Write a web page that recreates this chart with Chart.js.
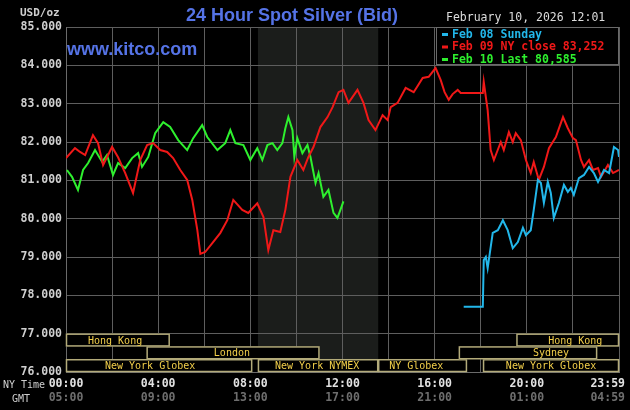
<!DOCTYPE html>
<html>
<head>
<meta charset="utf-8">
<script src="https://cdn.jsdelivr.net/npm/chart.js@4.4.0/dist/chart.umd.min.js"></script>
<style>
  html, body { margin: 0; padding: 0; background: #000; }
  canvas { display: block; }
</style>
</head>
<body>
<canvas id="silverChart" width="630" height="410"></canvas>
<script>
// hours after NY midnight -> price (USD/oz)
const feb09Hours = [0, 0.39, 0.61, 0.83, 1.17, 1.39, 1.61, 2.0, 2.26, 2.57,
  2.91, 3.22, 3.52, 3.78, 4.09, 4.39, 4.65, 4.96, 5.26, 5.48,
  5.70, 5.83, 6.04, 6.35, 6.70, 7.0, 7.26, 7.65, 7.91, 8.30,
  8.57, 8.78, 9.0, 9.30, 9.52, 9.74, 10.04, 10.30, 10.52, 10.74,
  11.04, 11.35, 11.57, 11.83, 12.04, 12.26, 12.65, 12.91, 13.13, 13.43,
  13.74, 13.96, 14.09, 14.39, 14.74, 15.09, 15.48, 15.74, 16.04, 16.26,
  16.43, 16.61, 16.78, 17.0, 17.13, 18.09, 18.13, 18.30, 18.43, 18.57,
  18.87, 19.0, 19.22, 19.39, 19.52, 19.74, 19.96, 20.17, 20.30, 20.52,
  20.74, 20.96, 21.26, 21.57, 21.78, 22.0, 22.13, 22.35, 22.48, 22.70,
  22.87, 23.09, 23.22, 23.52, 23.74, 24];
const feb09Prices = [81.58, 81.84, 81.74, 81.66, 82.18, 81.97, 81.40, 81.87, 81.60, 81.19,
  80.67, 81.53, 81.92, 81.97, 81.79, 81.74, 81.58, 81.27, 81.01, 80.49,
  79.70, 79.08, 79.13, 79.36, 79.63, 79.96, 80.49, 80.23, 80.15, 80.40,
  80.04, 79.18, 79.70, 79.65, 80.23, 81.09, 81.53, 81.27, 81.61, 81.87,
  82.39, 82.65, 82.91, 83.30, 83.36, 83.02, 83.36, 83.02, 82.57, 82.31,
  82.70, 82.57, 82.91, 83.02, 83.41, 83.30, 83.67, 83.70, 83.93, 83.62,
  83.30, 83.10, 83.25, 83.36, 83.28, 83.28, 83.57, 82.83, 81.79, 81.53,
  82.00, 81.79, 82.26, 82.00, 82.23, 82.05, 81.53, 81.19, 81.48, 81.01,
  81.35, 81.84, 82.13, 82.65, 82.36, 82.10, 82.05, 81.53, 81.35, 81.53,
  81.27, 81.32, 81.09, 81.40, 81.19, 81.27];

const feb10Hours = [0.04, 0.26, 0.52, 0.74, 0.96, 1.26, 1.57, 1.78, 2.04, 2.26,
  2.57, 2.87, 3.13, 3.30, 3.57, 3.87, 4.22, 4.52, 4.87, 5.26,
  5.52, 5.91, 6.13, 6.57, 6.91, 7.13, 7.35, 7.70, 8.0, 8.30,
  8.52, 8.74, 8.96, 9.17, 9.39, 9.52, 9.65, 9.83, 9.91, 10.04,
  10.26, 10.48, 10.61, 10.83, 10.96, 11.17, 11.39, 11.61, 11.78, 11.91,
  12.04];
const feb10Prices = [81.27, 81.09, 80.75, 81.27, 81.45, 81.79, 81.48, 81.66, 81.14, 81.45,
  81.32, 81.58, 81.71, 81.35, 81.61, 82.23, 82.52, 82.39, 82.05, 81.79,
  82.10, 82.44, 82.13, 81.79, 81.97, 82.31, 81.97, 81.92, 81.53, 81.84,
  81.53, 81.92, 81.97, 81.79, 81.97, 82.36, 82.65, 82.31, 81.61, 82.10,
  81.71, 81.92, 81.61, 80.93, 81.19, 80.57, 80.75, 80.15, 80.02, 80.23,
  80.45];

const feb08Hours = [17.26, 18.09, 18.13, 18.22, 18.30, 18.52, 18.74, 18.96, 19.17, 19.39,
  19.61, 19.83, 19.96, 20.17, 20.30, 20.48, 20.61, 20.74, 20.91, 21.04,
  21.17, 21.39, 21.61, 21.78, 21.91, 22.04, 22.26, 22.48, 22.70, 22.91,
  23.09, 23.35, 23.57, 23.78, 23.96, 24.0];
const feb08Prices = [77.70, 77.70, 78.92, 79.00, 78.71, 79.63, 79.70, 79.96, 79.70, 79.23,
  79.39, 79.76, 79.57, 79.70, 80.23, 81.01, 80.93, 80.41, 80.96, 80.67,
  80.02, 80.41, 80.88, 80.70, 80.80, 80.62, 81.06, 81.14, 81.35, 81.19,
  80.96, 81.27, 81.19, 81.87, 81.79, 81.61];

const legendLabels = ["Feb 08 Sunday", "Feb 09 NY close 83,252", "Feb 10 Last 80,585"];

const nyTickHours = [0, 4, 8, 12, 16, 20, 24];
const nyTickLabels = ["00:00", "04:00", "08:00", "12:00", "16:00", "20:00", "23:59"];
const gmtTickLabels = ["05:00", "09:00", "13:00", "17:00", "21:00", "01:00", "04:59"];

// trading sessions (row 0 = top band)
const sessionNames = ["Hong Kong", "London", "New York Globex", "New York NYMEX", "NY Globex", "New York Globex", "Sydney", "Hong Kong"];
const sessionStart = [0, 3.5, 0, 8.33, 13.55, 18.1, 17.05, 19.55];
const sessionEnd = [4.5, 11.0, 8.08, 13.55, 17.4, 24, 23.05, 24];
const sessionRow = [0, 1, 2, 2, 2, 2, 1, 0];
const sessionLabelAt = [2.13, 7.2, 3.65, 10.9, 15.2, 21.05, 21.05, 22.1];

const toPoints = (hours, prices) => hours.map((h, i) => ({ x: h, y: prices[i] }));

const mono = '"DejaVu Sans Mono", monospace';

const kitcoPlugin = {
  id: "kitco",
  beforeDraw(chart) {
    const { ctx, chartArea: a, scales: { x } } = chart;
    ctx.save();
    ctx.fillStyle = "#000";
    ctx.fillRect(0, 0, chart.width, chart.height);
    // NYMEX hours shading
    const x0 = x.getPixelForValue(sessionStart[3]);
    const x1 = x.getPixelForValue(sessionEnd[3]);
    ctx.fillStyle = "#1b1d1b";
    ctx.fillRect(x0, a.top, x1 - x0, a.bottom - a.top);
    ctx.restore();
  },
  afterDraw(chart) {
    const { ctx, chartArea: a, scales: { x, y } } = chart;
    ctx.save();

    // session bands
    const bandTop = [77, 76.667, 76.333];
    const bandBottom = [76.667, 76.333, 76];
    ctx.font = "10px " + mono;
    ctx.textAlign = "center";
    ctx.textBaseline = "middle";
    sessionNames.forEach((name, i) => {
      const r = sessionRow[i];
      const xa = x.getPixelForValue(sessionStart[i]);
      const xb = x.getPixelForValue(sessionEnd[i]);
      const ya = y.getPixelForValue(bandTop[r]);
      const yb = y.getPixelForValue(bandBottom[r]);
      ctx.fillStyle = "#000";
      ctx.fillRect(xa, ya, xb - xa, yb - ya);
      ctx.strokeStyle = "#b3ab7a";
      ctx.lineWidth = 1.5;
      ctx.strokeRect(xa + 0.5, ya + 0.5, xb - xa - 1, yb - ya - 1);
      ctx.fillStyle = "#f2cf4a";
      ctx.fillText(name, x.getPixelForValue(sessionLabelAt[i]), (ya + yb) / 2 + 1);
    });

    // legend box
    const lx = 436, ly = a.top, lw = a.right - lx, lh = 38;
    ctx.fillStyle = "#000";
    ctx.fillRect(lx, ly, lw, lh);
    ctx.strokeStyle = "#6a6a6a";
    ctx.lineWidth = 1;
    ctx.strokeRect(lx + 0.5, ly + 0.5, lw - 1, lh - 1);
    ctx.font = "bold 11.5px " + mono;
    ctx.textAlign = "left";
    chart.data.datasets.forEach((ds, i) => {
      const ty = ly + 7 + i * 12.5;
      ctx.fillStyle = ds.borderColor;
      ctx.fillRect(442, ty - 1, 6, 3);
      ctx.fillText(legendLabels[i], 452, ty + 1);
    });

    // title, site, date, unit
    ctx.textAlign = "center";
    ctx.fillStyle = "#5573e6";
    ctx.font = 'bold 18px "Liberation Sans", Arial, sans-serif';
    ctx.fillText("24 Hour Spot Silver (Bid)", 292, 16);
    ctx.textAlign = "left";
    ctx.fillText("www.kitco.com", 67, 50);
    ctx.fillStyle = "#dcdcdc";
    ctx.font = "11.5px " + mono;
    ctx.fillText("February 10, 2026 12:01", 446, 18);
    ctx.fillStyle = "#cfcfcf";
    ctx.font = "bold 11px " + mono;
    ctx.fillText("USD/oz", 20, 13);

    // time axis labels
    ctx.font = "10px " + mono;
    ctx.fillStyle = "#cfcfcf";
    ctx.fillText("NY Time", 3, 385);
    ctx.fillText("GMT", 12, 399);
    ctx.font = "bold 11.5px " + mono;
    ctx.textAlign = "center";
    nyTickHours.forEach((h, i) => {
      const w = ctx.measureText(nyTickLabels[i]).width;
      const px = Math.min(x.getPixelForValue(h), chart.width - w / 2 - 5);
      ctx.fillStyle = "#e2e2e2";
      ctx.fillText(nyTickLabels[i], px, 384);
      ctx.fillStyle = "#6e6e6e";
      ctx.fillText(gmtTickLabels[i], px, 398);
    });
    ctx.restore();
  }
};

const ctx = document.getElementById("silverChart").getContext("2d");
new Chart(ctx, {
  type: "line",
  data: {
    datasets: [
      { label: legendLabels[0], data: toPoints(feb08Hours, feb08Prices), borderColor: "#22b7ea" },
      { label: legendLabels[1], data: toPoints(feb09Hours, feb09Prices), borderColor: "#f01818" },
      { label: legendLabels[2], data: toPoints(feb10Hours, feb10Prices), borderColor: "#2ef02e" }
    ]
  },
  options: {
    responsive: false,
    animation: false,
    devicePixelRatio: 1,
    layout: { padding: { top: 27, right: 11, left: 0, bottom: 0 } },
    elements: {
      point: { radius: 0 },
      line: { borderWidth: 2, tension: 0 }
    },
    plugins: {
      legend: { display: false },
      tooltip: { enabled: false }
    },
    scales: {
      x: {
        type: "linear",
        min: 0,
        max: 24,
        ticks: { stepSize: 2, display: false },
        grid: { color: "#5e5e5e", drawTicks: false },
        border: { color: "#6a6a6a" },
        afterFit: (s) => { s.height = 38; }
      },
      y: {
        min: 76,
        max: 85,
        ticks: {
          stepSize: 1,
          padding: 4,
          color: "#cfcfcf",
          font: { family: "DejaVu Sans Mono", size: 11.5, weight: "bold" },
          callback: (v) => v.toFixed(3)
        },
        grid: { color: "#5e5e5e", drawTicks: false },
        border: { color: "#6a6a6a" },
        afterFit: (s) => { s.width = 66; }
      }
    }
  },
  plugins: [kitcoPlugin]
});
</script>
</body>
</html>
